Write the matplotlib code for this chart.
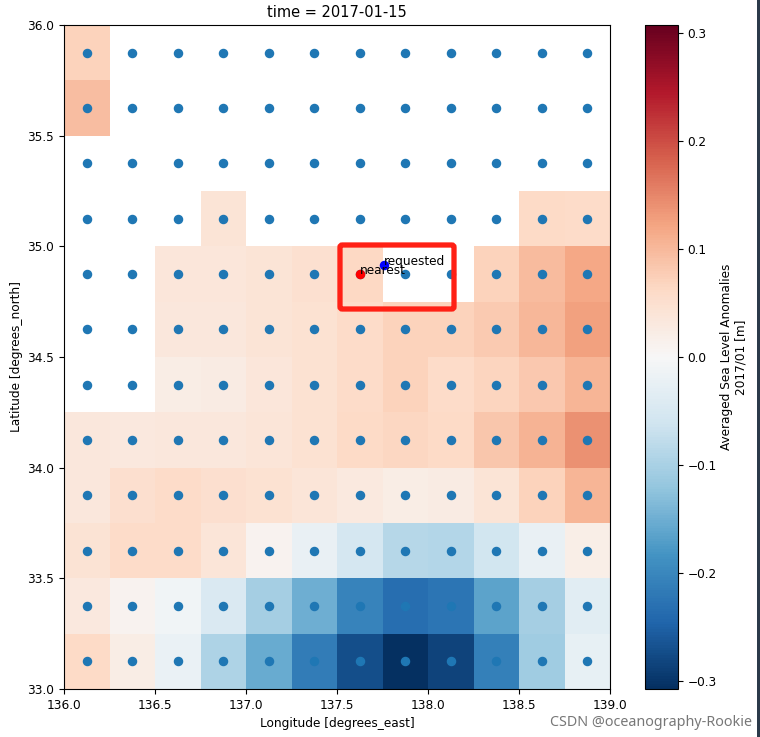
import matplotlib
matplotlib.use("Agg")
import matplotlib.pyplot as plt
from matplotlib.patches import FancyBboxPatch, Rectangle
import numpy as np

nan = np.nan

lon = [136.125, 136.375, 136.625, 136.875, 137.125, 137.375, 137.625, 137.875, 138.125, 138.375, 138.625, 138.875]
lat = [33.125, 33.375, 33.625, 33.875, 34.125, 34.375, 34.625, 34.875, 35.125, 35.375, 35.625, 35.875]

# sea level anomaly, one list per latitude, south to north
row_33125 = [0.062, 0.022, -0.020, -0.095, -0.155, -0.215, -0.272, -0.307, -0.285, -0.210, -0.110, -0.025]
row_33375 = [0.032, 0.012, -0.012, -0.047, -0.105, -0.150, -0.205, -0.235, -0.225, -0.165, -0.105, -0.035]
row_33625 = [0.044, 0.060, 0.060, 0.040, 0.012, -0.022, -0.055, -0.088, -0.090, -0.058, -0.022, 0.020]
row_33875 = [0.034, 0.052, 0.060, 0.052, 0.046, 0.040, 0.030, 0.022, 0.026, 0.042, 0.072, 0.105]
row_34125 = [0.036, 0.032, 0.036, 0.036, 0.040, 0.046, 0.062, 0.066, 0.062, 0.086, 0.106, 0.140]
row_34375 = [nan, nan, 0.024, 0.026, 0.038, 0.048, 0.060, 0.070, 0.060, 0.068, 0.084, 0.105]
row_34625 = [nan, nan, 0.034, 0.034, 0.042, 0.046, 0.060, 0.072, 0.072, 0.080, 0.102, 0.125]
row_34875 = [nan, nan, 0.038, 0.038, 0.042, 0.050, 0.064, nan, nan, 0.072, 0.098, 0.118]
row_35125 = [nan, nan, nan, 0.042, nan, nan, nan, nan, nan, nan, 0.062, 0.060]
row_35375 = [nan] * 12
row_35625 = [0.095] + [nan] * 11
row_35875 = [0.072] + [nan] * 11

sla = np.array([row_33125, row_33375, row_33625, row_33875, row_34125, row_34375,
                row_34625, row_34875, row_35125, row_35375, row_35625, row_35875])

lon_edges = [136.0, 136.25, 136.5, 136.75, 137.0, 137.25, 137.5, 137.75, 138.0, 138.25, 138.5, 138.75, 139.0]
lat_edges = [33.0, 33.25, 33.5, 33.75, 34.0, 34.25, 34.5, 34.75, 35.0, 35.25, 35.5, 35.75, 36.0]

req_lon, req_lat = 137.76, 34.915
near_lon, near_lat = 137.625, 34.875
vlim = 0.3075

plt.rcParams["font.size"] = 8.7
W, H = 760, 737
fig = plt.figure(figsize=(W / 100, H / 100), dpi=100)
ax = fig.add_axes([64 / W, 1 - 689 / H, 546 / W, 664 / H])
cax = fig.add_axes([645 / W, 1 - 689 / H, 33 / W, 664 / H])

mesh = ax.pcolormesh(lon_edges, lat_edges, sla, cmap="RdBu_r", vmin=-vlim, vmax=vlim)
cb = fig.colorbar(mesh, cax=cax)
cb.set_ticks([-0.3, -0.2, -0.1, 0.0, 0.1, 0.2, 0.3])
cb.set_label("Averaged Sea Level Anomalies\n2017/01 [m]", labelpad=2)

lon2, lat2 = np.meshgrid(lon, lat)
ax.scatter(lon2.ravel(), lat2.ravel(), s=34)
ax.scatter([req_lon], [req_lat], s=34, c="blue")
ax.text(req_lon, req_lat, "requested", clip_on=False)
ax.scatter([near_lon], [near_lat], s=34, c="red")
ax.text(near_lon, near_lat, "nearest", clip_on=False)

ax.set_xlim(136, 139)
ax.set_ylim(33, 36)
ax.set_xlabel("Longitude [degrees_east]")
ax.set_ylabel("Latitude [degrees_north]", labelpad=3)
ax.set_title("time = 2017-01-15", fontsize=10.5)

# red box and window edge added on top of the screenshot
fig.add_artist(FancyBboxPatch((340 / W, 1 - 309 / H), 114 / W, 64 / H, boxstyle="round,pad=0,rounding_size=0.003",
                              transform=fig.transFigure, fill=False, ec="#ff2015", lw=3.8))
fig.add_artist(Rectangle((757 / W, 0), 3 / W, 1, transform=fig.transFigure, fc="#2b3a4a", ec="none"))
fig.text(752 / W, 7 / H, "CSDN @oceanography-Rookie", ha="right", va="bottom", color="#777777", fontsize=10.3,
         family=["Noto Sans", "DejaVu Sans"])

fig.savefig("out.png", dpi=100)
